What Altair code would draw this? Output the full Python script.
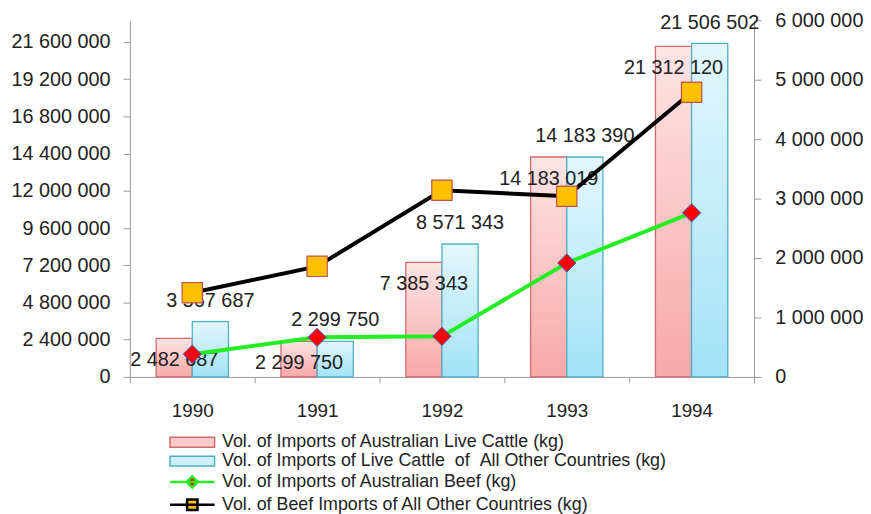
import altair as alt
import pandas as pd

# ---------------- data ----------------
years = ["1990", "1991", "1992", "1993", "1994"]
aus_cattle = [2482687, 2299750, 7385343, 14183019, 21312120]
other_cattle = [3567687, 2299750, 8571343, 14183390, 21506502]
aus_beef = [383000, 667000, 683000, 1917000, 2760000]
other_beef = [1417000, 1860000, 3140000, 3040000, 4790000]
left_ticks = [0, 2400000, 4800000, 7200000, 9600000, 12000000,
              14400000, 16800000, 19200000, 21600000]
right_ticks = [0, 1000000, 2000000, 3000000, 4000000, 5000000, 6000000]
series_names = [
    "Vol. of Imports of Australian Live Cattle (kg)",
    "Vol. of Imports of Live Cattle \u00a0of \u00a0All Other Countries (kg)",
    "Vol. of Imports of Australian Beef (kg)",
    "Vol. of Beef Imports of All Other Countries (kg)",
]


def fmt(v):
    return f"{v:,}".replace(",", " ")


bars = pd.DataFrame({
    "year": years * 2,
    "series": [series_names[0]] * 5 + [series_names[1]] * 5,
    "sid": [0] * 5 + [1] * 5,
    "value": aus_cattle + other_cattle,
})
bars["label"] = bars["value"].map(fmt)

lines = pd.DataFrame({
    "year": years * 2,
    "series": [series_names[2]] * 5 + [series_names[3]] * 5,
    "sid": [2] * 5 + [3] * 5,
    "value": aus_beef + other_beef,
})
legend_df = pd.DataFrame({"series": series_names})

# ---------------- styles ----------------
FONT = "Liberation Sans"
TXT = "#222222"
AX = "#9a9a9a"
PINK_GRAD = {"gradient": "linear", "x1": 0, "y1": 0, "x2": 0, "y2": 1,
             "stops": [{"offset": 0, "color": "#fde4e4"},
                       {"offset": 1, "color": "#f8a8a8"}]}
BLUE_GRAD = {"gradient": "linear", "x1": 0, "y1": 0, "x2": 0, "y2": 1,
             "stops": [{"offset": 0, "color": "#e2f7fd"},
                       {"offset": 1, "color": "#a3e2f6"}]}
PINK_EDGE = "#cf6b6b"
BLUE_EDGE = "#4fb0c8"
GREEN = "#22ee22"

label_expr = "replace(replace(format(datum.value, ','), ',', ' '), ',', ' ')"

x_enc = alt.X(
    "year:N", sort=years,
    scale=alt.Scale(paddingInner=0, paddingOuter=0),
    axis=alt.Axis(title=None, tickBand="extent", tickSize=6, labelAngle=0,
                  labelFontSize=19, labelFont=FONT, labelColor=TXT,
                  labelPadding=19, domainColor=AX, tickColor=AX),
)
xoff_enc = alt.XOffset(
    "series:N", sort=series_names[:2],
    scale=alt.Scale(domain=series_names[:2], paddingInner=0, paddingOuter=0.726),
)
y_left = alt.Y(
    "value:Q",
    scale=alt.Scale(domain=[0, 23000000], nice=False),
    axis=alt.Axis(orient="left", values=left_ticks, labelExpr=label_expr,
                  title=None, grid=False, tickSize=7, labelPadding=13,
                  labelFontSize=20, labelFont=FONT, labelColor=TXT,
                  domainColor=AX, tickColor=AX),
)
y_right = alt.Y(
    "value:Q",
    scale=alt.Scale(domain=[0, 6000000], nice=False),
    axis=alt.Axis(orient="right", values=right_ticks, labelExpr=label_expr,
                  title=None, grid=False, tickSize=7, labelPadding=14,
                  labelFontSize=20, labelFont=FONT, labelColor=TXT,
                  domainColor=AX, tickColor=AX),
)

base_bars = alt.Chart(bars)
bar_layer = base_bars.mark_bar(strokeWidth=1.3).encode(
    x=x_enc, xOffset=xoff_enc, y=y_left,
    fill=alt.condition("datum.sid == 0", alt.value(PINK_GRAD), alt.value(BLUE_GRAD)),
    stroke=alt.condition("datum.sid == 0", alt.value(PINK_EDGE), alt.value(BLUE_EDGE)),
)
text_pink = base_bars.mark_text(font=FONT, fontSize=20, color=TXT, dy=22).encode(
    x=x_enc, xOffset=xoff_enc, y=y_left, text="label:N"
).transform_filter("datum.sid == 0")
text_blue = base_bars.mark_text(font=FONT, fontSize=20, color=TXT, dy=-21).encode(
    x=x_enc, xOffset=xoff_enc, y=y_left, text="label:N"
).transform_filter("datum.sid == 1")

left_group = alt.layer(bar_layer, text_pink, text_blue)

base_lines = alt.Chart(lines)
green_line = base_lines.mark_line(color=GREEN, strokeWidth=4).encode(
    x=x_enc, y=y_right).transform_filter("datum.sid == 2")
black_line = base_lines.mark_line(color="#000000", strokeWidth=4).encode(
    x=x_enc, y=y_right).transform_filter("datum.sid == 3")
diamonds = base_lines.mark_point(shape="diamond", filled=True, fill="#ff0000",
                                 stroke="#3f5fbf", strokeWidth=1, size=340,
                                 opacity=1).encode(
    x=x_enc, y=y_right).transform_filter("datum.sid == 2")
squares = base_lines.mark_point(shape="square", filled=True, fill="#ffc000",
                                stroke="#c0504d", strokeWidth=1.2, size=420,
                                opacity=1).encode(
    x=x_enc, y=y_right).transform_filter("datum.sid == 3")

# legend carrier (no visible marks, only the merged legend)
leg = alt.Legend(orient="none", legendX=41, legendY=417, title=None,
                 direction="vertical", labelFont=FONT, labelFontSize=18,
                 labelColor=TXT, symbolSize=225, labelOffset=21,
                 symbolOffset=13, rowPadding=1, labelLimit=700)
shape_paths = [
    "M-3,-0.667H3V0.667H-3Z",
    "M-3,-0.667H3V0.667H-3Z",
    "M-3,0H3M0,-0.75L0.75,0L0,0.75L-0.75,0Z",
    "M-3,0H3M-0.7,-0.7H0.7V0.7H-0.7Z",
]
carrier = alt.Chart(legend_df).mark_point(filled=True, opacity=1,
                                          strokeJoin="round").encode(
    fill=alt.Fill("series:N", scale=alt.Scale(domain=series_names,
                  range=["#fbcaca", "#cdeffb", "#ff0000", "#ffc000"]), legend=leg),
    stroke=alt.Stroke("series:N", scale=alt.Scale(domain=series_names,
                      range=[PINK_EDGE, BLUE_EDGE, GREEN, "#000000"]), legend=leg),
    shape=alt.Shape("series:N", scale=alt.Scale(domain=series_names,
                    range=shape_paths), legend=leg),
    strokeWidth=alt.StrokeWidth("series:N", scale=alt.Scale(type="ordinal",
                                domain=series_names, range=[1.5, 1.5, 2.5, 2.5]), legend=leg),
).transform_filter("false")

right_group = alt.layer(green_line, black_line, diamonds, squares, carrier)

chart = alt.layer(left_group, right_group).resolve_scale(
    y="independent"
).properties(
    width=630, height=360,
    padding={"left": 2, "top": 0, "right": 0, "bottom": 0},
    background="white",
).configure_view(stroke=None)

chart.save("out.html", embed_options={"renderer": "svg", "actions": False})
